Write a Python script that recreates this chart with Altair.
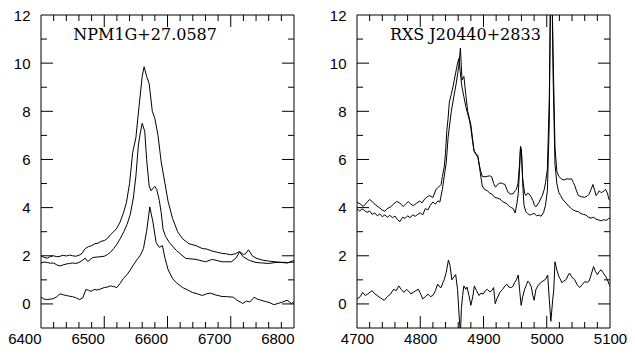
import altair as alt
import pandas as pd

# ---------------- Left panel: NPM1G+27.0587 (H-alpha region) ----------------
lam_a = [6400, 6405, 6410, 6415, 6420, 6425, 6430, 6435, 6440, 6445, 6450, 6455, 6460, 6465,
         6470, 6475, 6480, 6485, 6490, 6495, 6500, 6505, 6510, 6515, 6520, 6525, 6530, 6535,
         6540, 6545, 6550, 6555, 6560, 6563, 6567, 6571, 6576, 6580, 6585, 6590, 6596, 6601,
         6608, 6616, 6624, 6634, 6645, 6655, 6662, 6670, 6678, 6686, 6693, 6700, 6707, 6714,
         6720, 6724, 6728, 6734, 6740, 6750, 6760, 6770, 6780, 6790, 6795, 6800]
flux_a = [2.0, 1.93, 1.9, 1.97, 2.0, 1.96, 1.98, 2.02, 1.99, 2.03, 2.0, 1.98, 2.02, 2.1,
          2.3, 2.38, 2.42, 2.5, 2.52, 2.6, 2.63, 2.72, 2.88, 3.0, 3.15, 3.4, 3.75, 4.2,
          5.0, 6.3, 6.9, 8.2, 9.45, 9.85, 9.45, 9.15, 8.0, 7.7, 7.0, 5.9, 5.0, 4.25,
          3.55, 3.0, 2.7, 2.5, 2.42, 2.3, 2.28, 2.2, 2.15, 2.1, 2.08, 2.04, 2.08, 2.18,
          2.05, 2.1, 2.25, 2.0, 1.9, 1.82, 1.78, 1.75, 1.72, 1.7, 1.76, 1.8]

lam_b = [6400, 6405, 6410, 6415, 6420, 6425, 6430, 6435, 6440, 6445, 6450, 6455, 6460, 6465,
         6470, 6474, 6478, 6482, 6490, 6500, 6505, 6510, 6515, 6520, 6525, 6531, 6536, 6541,
         6546, 6550, 6554, 6557, 6560, 6564, 6567, 6571, 6574, 6577, 6580, 6583, 6587, 6590,
         6593, 6597, 6603, 6614, 6629, 6645, 6660, 6671, 6686, 6701, 6708, 6714, 6720, 6730,
         6740, 6750, 6760, 6770, 6780, 6790, 6800]
flux_b = [1.7, 1.74, 1.72, 1.69, 1.7, 1.62, 1.58, 1.62, 1.66, 1.68, 1.7, 1.68, 1.72, 1.8,
          1.9, 1.76, 1.85, 1.93, 1.95, 1.98, 2.05, 2.15, 2.3, 2.48, 2.7, 3.0, 3.3, 3.7,
          4.4, 5.3, 6.6, 7.1, 7.5, 7.17, 6.0, 4.9, 4.7, 4.8, 4.88, 4.75, 4.3, 3.8,
          3.1, 2.8, 2.55, 2.22, 1.89, 1.85, 1.75, 1.85, 1.75, 1.75, 1.9, 2.15, 1.95, 1.8,
          1.72, 1.7, 1.68, 1.72, 1.73, 1.72, 1.74]

lam_c = [6400, 6405, 6410, 6415, 6420, 6425, 6430, 6435, 6440, 6445, 6450, 6455, 6461, 6466,
         6471, 6475, 6479, 6484, 6489, 6494, 6500, 6505, 6510, 6515, 6520, 6525, 6530, 6536,
         6541, 6546, 6552, 6557, 6562, 6567, 6572, 6577, 6582, 6587, 6592, 6596, 6601, 6608,
         6614, 6624, 6632, 6639, 6647, 6655, 6662, 6668, 6675, 6686, 6695, 6704, 6710, 6715,
         6719, 6725, 6730, 6737, 6742, 6748, 6755, 6762, 6768, 6775, 6782, 6789, 6793, 6796,
         6800]
flux_c = [0.28, 0.2, 0.18, 0.2, 0.22, 0.3, 0.42, 0.38, 0.35, 0.32, 0.3, 0.26, 0.18, 0.25,
          0.6, 0.57, 0.52, 0.6, 0.58, 0.62, 0.68, 0.7, 0.75, 0.72, 0.68, 0.85, 1.05, 1.22,
          1.4, 1.62, 1.85, 2.02, 2.3, 3.02, 4.03, 3.4, 2.55, 2.35, 2.42, 1.9, 1.42, 1.05,
          0.88, 0.68, 0.58, 0.48, 0.42, 0.35, 0.42, 0.45, 0.38, 0.31, 0.3, 0.28, 0.15, 0.08,
          0.02, 0.12, 0.08, 0.28, 0.2, 0.15, 0.1, 0.05, -0.03, 0.02, 0.08, 0.15, 0.08, 0.01,
          0.1]

# ---------------- Right panel: RXS J20440+2833 (H-beta / [O III]) ----------------
lam_d = [4700, 4705, 4710, 4715, 4720, 4725, 4730, 4735, 4740, 4744, 4748, 4753, 4758, 4763,
         4768, 4773, 4777, 4781, 4785, 4789, 4794, 4799, 4803, 4807, 4811, 4815, 4820, 4825,
         4829, 4833, 4835, 4838, 4840, 4842, 4844, 4846, 4849, 4852, 4856, 4859, 4861, 4863,
         4866, 4869, 4872, 4875, 4878, 4880, 4883, 4885, 4888, 4891, 4895, 4898, 4902, 4906,
         4910, 4913, 4916, 4919, 4922, 4926, 4930, 4934, 4937, 4939, 4943, 4947, 4950, 4952,
         4954.5, 4957, 4958.5, 4960, 4962, 4965, 4967, 4970, 4972.5, 4975, 4978, 4980.5, 4983,
         4986, 4988, 4991, 4993, 4996, 4998, 5001, 5004, 5007, 5010, 5013, 5016, 5019, 5023,
         5026, 5029, 5032, 5036, 5039, 5042, 5044.5, 5047, 5050, 5055, 5060, 5064, 5067, 5070,
         5073, 5076, 5078, 5081, 5083, 5086, 5088, 5091, 5093, 5096, 5098, 5100]
flux_d = [4.23, 4.15, 4.05, 4.2, 4.34, 4.22, 4.1, 4.0, 3.9, 3.85, 3.96, 4.03, 4.15, 4.26,
          4.18, 4.05, 4.15, 4.25, 4.15, 4.08, 4.18, 4.27, 4.2, 4.36, 4.45, 4.5, 4.42, 4.76,
          4.85, 4.96, 5.3, 5.7, 6.3, 7.2, 7.71, 8.38, 8.7, 9.05, 9.6, 10.0, 10.19, 9.7,
          9.0, 8.6, 8.2, 7.9, 7.6, 7.3, 6.7, 6.35, 6.2, 6.1, 5.57, 5.3, 5.28, 5.3,
          5.32, 5.28, 5.0, 4.85, 4.95, 5.03, 5.0, 4.96, 4.75, 4.63, 4.56, 4.58, 4.7, 4.76,
          5.0, 5.8, 6.5, 6.3, 5.2, 4.6, 4.5, 4.6, 4.56, 4.45, 4.3, 4.1, 4.03,
          4.15, 4.23, 4.4, 4.5, 4.75, 5.03, 5.6, 8.5, 15.0, 10.5, 6.5, 5.5, 5.3, 5.2,
          5.15, 5.16, 5.2, 5.18, 5.2, 5.05, 4.9, 4.7, 4.5, 4.45, 4.43, 4.48, 4.56, 4.75,
          4.96, 4.7, 4.5, 4.6, 4.7, 4.62, 4.65, 4.7, 4.76, 4.6, 4.36, 4.3]

lam_e = [4700, 4704, 4708, 4712, 4716, 4720, 4724, 4728, 4732, 4736, 4740, 4744, 4748, 4752,
         4756, 4760, 4764, 4768, 4772, 4776, 4780, 4784, 4788, 4792, 4796, 4800, 4804, 4808,
         4812, 4816, 4820, 4824, 4828, 4831, 4835, 4839, 4841, 4844, 4849, 4853, 4857, 4861,
         4863.5, 4866, 4869, 4872, 4875, 4880, 4885, 4888, 4891, 4895, 4898, 4902, 4906, 4910,
         4914, 4918, 4922, 4926, 4930, 4934, 4937, 4941, 4944, 4947, 4950, 4953, 4955, 4957,
         4958.5, 4960, 4962, 4964, 4967, 4970, 4973, 4976, 4980, 4984, 4988, 4991, 4995, 4998,
         5001, 5004, 5007, 5010, 5013, 5016, 5019, 5022, 5025, 5029, 5032, 5035, 5039, 5042,
         5046, 5050, 5054, 5058, 5062, 5066, 5070, 5074, 5078, 5082, 5086, 5090, 5094, 5098,
         5100]
flux_e = [3.96, 3.85, 3.95, 3.88, 3.8, 3.86, 3.72, 3.78, 3.66, 3.74, 3.62, 3.7, 3.6, 3.68,
          3.58, 3.65, 3.5, 3.42, 3.6, 3.55, 3.66, 3.58, 3.7, 3.64, 3.72, 3.78, 3.7, 3.96,
          3.9, 4.1, 4.23, 4.15, 4.28, 4.23, 4.76, 5.5, 5.83, 6.91, 7.98, 8.6, 9.18, 9.9,
          10.63, 9.3, 9.45, 8.7, 8.0, 7.44, 6.37, 6.25, 6.17, 5.43, 4.9, 4.75, 4.7, 4.6,
          4.55, 4.42, 4.4, 4.36, 4.25, 4.2, 4.16, 4.05, 4.0, 3.96, 3.78, 4.2, 4.6, 5.6,
          6.55, 6.4, 5.0, 4.1, 3.83, 3.75, 3.69, 3.72, 3.76, 3.66, 3.69, 3.64, 3.8, 4.1,
          4.7, 7.5, 16.0, 9.5, 5.8, 5.0, 4.63, 4.5, 4.35, 4.23, 4.15, 4.05, 3.96, 3.9,
          3.85, 3.83, 3.75, 3.72, 3.69, 3.6, 3.56, 3.6, 3.52, 3.49, 3.45, 3.5, 3.47, 3.55,
          3.56]

lam_f = [4700, 4705, 4709, 4713, 4717, 4721, 4724, 4728, 4732, 4737, 4743, 4748, 4753, 4758,
         4762, 4766, 4770, 4774, 4778, 4781, 4785, 4789, 4793, 4797, 4800, 4804, 4808, 4812,
         4816, 4820, 4824, 4827.5, 4831, 4833, 4836, 4838, 4841, 4844.5, 4847, 4850, 4852, 4856,
         4859, 4861.5, 4863.5, 4865, 4867, 4869, 4872, 4874, 4877, 4880, 4883, 4885.5, 4889, 4893,
         4896, 4899.5, 4903, 4906, 4910, 4913, 4916, 4918.5, 4921, 4926, 4930, 4934, 4937, 4940,
         4944, 4947, 4949, 4952, 4955, 4957, 4959.5, 4962, 4965, 4968, 4970, 4972.5, 4975.6, 4978,
         4980, 4983, 4986, 4990, 4994, 4998, 5001.5, 5004, 5006.5, 5009.5, 5011, 5013, 5016, 5019,
         5022, 5024, 5027, 5031, 5034, 5036, 5040, 5044, 5048, 5052, 5056, 5060, 5064, 5067,
         5070, 5074, 5077, 5080, 5083, 5086, 5089, 5093, 5096, 5098.5, 5100]
flux_f = [0.2, 0.3, 0.48, 0.35, 0.41, 0.5, 0.55, 0.42, 0.35, 0.25, 0.15, 0.3, 0.41, 0.61,
          0.55, 0.75, 0.6, 0.48, 0.6, 0.55, 0.42, 0.48, 0.55, 0.61, 0.45, 0.21, 0.3, 0.41,
          0.3, 0.35, 0.55, 0.82, 0.7, 0.68, 0.9, 1.02, 1.3, 1.82, 1.6, 1.0, 1.08, 1.22,
          0.6, -0.5, -1.3, -0.2, 0.35, 0.75, 0.61, 0.7, 0.35, -0.06, 0.3, 0.75, 0.55, 0.35,
          0.45, 0.41, 0.55, 0.61, 0.5, 0.55, 0.68, 0.01, 0.2, 0.48, 0.6, 0.75, 0.82, 0.7,
          0.68, 0.75, 0.88, 1.0, 1.2, 0.6, -0.06, 0.3, 0.61, 0.8, 0.95, 0.88, 0.7, 0.35,
          0.15, 0.61, 0.75, 0.88, 0.95, 1.02, 1.2, 0.2, -0.72, 0.2, 0.55, 1.75, 1.4, 1.15,
          1.0, 0.88, 0.95, 1.02, 1.2, 1.28, 1.1, 1.02, 0.8, 0.68, 0.8, 0.92, 0.9, 0.95,
          1.2, 1.55, 1.35, 1.22, 1.35, 1.42, 1.3, 1.15, 1.0, 0.82, 0.75]

# Axis ticks / labels
y_major = [0, 2, 4, 6, 8, 10]
y_minor = [1, 3, 5, 7, 9, 11]
y_labels = [0, 2, 4, 6, 8, 10, 12]
y_range = [-1, 12]
left_x_major = [6500, 6600, 6700]
left_x_minor = [6420, 6440, 6460, 6480, 6520, 6540, 6560, 6580, 6620, 6640, 6660, 6680,
                6720, 6740, 6760, 6780]
left_x_labels = [6400, 6500, 6600, 6700, 6800]
right_x_major = [4800, 4900, 5000]
right_x_minor = [4720, 4740, 4760, 4780, 4820, 4840, 4860, 4880, 4920, 4940, 4960, 4980,
                 5020, 5040, 5060, 5080]
right_x_labels = [4700, 4800, 4900, 5000, 5100]

left_title = "NPM1G+27.0587"
right_title = "RXS  J20440+2833"

W, H = 253, 313
MAJ, MIN = 12, 6


def spectra(pairs):
    frames = []
    for name, lam, flux in pairs:
        frames.append(pd.DataFrame({"lam": lam, "flux": flux, "series": name}))
    return pd.concat(frames, ignore_index=True)


def panel(df, xdom, xlabels, xmajor, xminor, title, title_x, x_label_align):
    xs = alt.Scale(domain=xdom, nice=False, zero=False)
    ys = alt.Scale(domain=y_range, nice=False, zero=False)
    x_axis = alt.Axis(values=xlabels, format="d", title=None, ticks=False, tickSize=0,
                      domain=False, grid=False, labelAlign=x_label_align, labelPadding=3,
                      labelFlush=False, labelOverlap=False, labelBaseline="top")
    y_axis = alt.Axis(values=y_labels, format="d", title=None, ticks=False, tickSize=0,
                      domain=False, grid=False, labelPadding=11, labelOverlap=False,
                      labelFlush=False)

    def Xn():
        return alt.X("lam:Q", scale=xs, axis=None)

    def Yn():
        return alt.Y("flux:Q", scale=ys, axis=None)

    layers = [alt.Chart(df).mark_line(color="black", strokeWidth=1, clip=True).encode(
        x=alt.X("lam:Q", scale=xs, axis=x_axis),
        y=alt.Y("flux:Q", scale=ys, axis=y_axis),
        detail="series:N")]

    rule = dict(color="black", strokeWidth=1)
    # inward ticks along bottom and top edges
    for vals, ln in ((xmajor, MAJ), (xminor, MIN)):
        d = pd.DataFrame({"lam": vals})
        layers.append(alt.Chart(d).mark_rule(**rule).encode(
            x=Xn(), y=alt.value(H), y2=alt.value(H - ln)))
        layers.append(alt.Chart(d).mark_rule(**rule).encode(
            x=Xn(), y=alt.value(0), y2=alt.value(ln)))
    # inward ticks along left and right edges
    for vals, ln in ((y_major, MAJ), (y_minor, MIN)):
        d = pd.DataFrame({"flux": vals})
        layers.append(alt.Chart(d).mark_rule(**rule).encode(
            y=Yn(), x=alt.value(0), x2=alt.value(ln)))
        layers.append(alt.Chart(d).mark_rule(**rule).encode(
            y=Yn(), x=alt.value(W), x2=alt.value(W - ln)))
    # frame: the two x-limits as full-height rules, the two y-limits as full-width rules
    layers.append(alt.Chart(pd.DataFrame({"lam": xdom})).mark_rule(**rule).encode(
        x=Xn(), y=alt.value(0), y2=alt.value(H)))
    layers.append(alt.Chart(pd.DataFrame({"flux": y_range})).mark_rule(**rule).encode(
        y=Yn(), x=alt.value(0), x2=alt.value(W)))

    tdf = pd.DataFrame({"lam": [title_x], "flux": [10.98], "t": [title]})
    layers.append(alt.Chart(tdf).mark_text(align="left", baseline="alphabetic",
                                           font="DejaVu Serif", fontSize=16,
                                           color="black").encode(
        x=Xn(), y=Yn(), text="t:N"))

    return alt.layer(*layers).resolve_axis(x="independent", y="independent").properties(
        width=W, height=H)


left_df = spectra([("a", lam_a, flux_a), ("b", lam_b, flux_b), ("c", lam_c, flux_c)])
right_df = spectra([("d", lam_d, flux_d), ("e", lam_e, flux_e), ("f", lam_f, flux_f)])

left = panel(left_df, [6400, 6800], left_x_labels, left_x_major, left_x_minor,
             left_title, 6451, "right")
right = panel(right_df, [4700, 5100], right_x_labels, right_x_major, right_x_minor,
              right_title, 4752, "center")

chart = alt.hconcat(left, right, spacing=34).properties(
    padding={"left": -1, "top": 0, "right": 0, "bottom": 2}
).configure_view(strokeWidth=0).configure_axis(
    labelFont="Liberation Sans", labelFontSize=15, labelColor="black"
)

chart.save("out.html", embed_options={"renderer": "svg", "actions": False})
